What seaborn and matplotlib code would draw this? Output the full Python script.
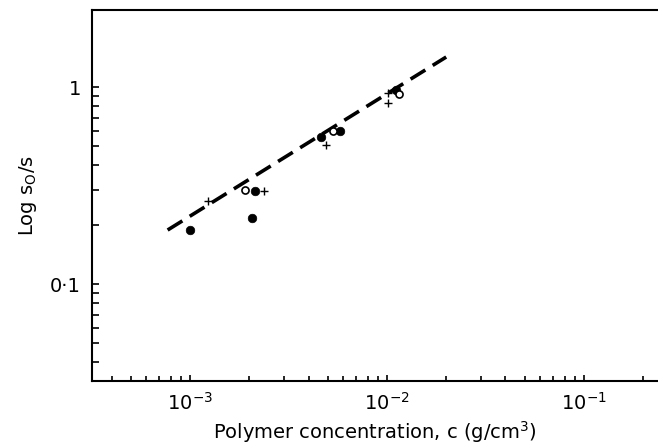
import pandas as pd
import seaborn as sns
import matplotlib.pyplot as plt
from matplotlib.ticker import LogLocator, NullFormatter, FixedLocator

# Values (log-log axes)
filled_c = [1.0e-3, 2.07e-3, 2.14e-3, 4.62e-3, 5.77e-3, 1.11e-2]
filled_s = [0.188, 0.216, 0.298, 0.56, 0.598, 0.97]

open_c = [1.9e-3, 5.3e-3, 1.15e-2]
open_s = [0.30, 0.60, 0.92]

plus_c = [1.24e-3, 2.37e-3, 4.89e-3, 1.01e-2, 1.01e-2]
plus_s = [0.264, 0.298, 0.508, 0.93, 0.826]

line_c = [7.7e-4, 2.0e-2]
line_s = [0.188, 1.42]

xtick_vals = [1e-3, 1e-2, 1e-1]
xtick_labels = ["$10^{-3}$", "$10^{-2}$", "$10^{-1}$"]
ytick_vals = [0.1, 1]
ytick_labels = ["0·1", "1"]

sns.set_style("ticks")
plt.rcParams["font.family"] = ["DejaVu Sans"]
plt.rcParams["text.color"] = "black"
plt.rcParams["axes.labelcolor"] = "black"

fig = plt.figure(figsize=(6.58, 4.44), dpi=100)
ax = fig.add_axes([92 / 658, 1 - 381 / 444, 1 - 92 / 658, 371 / 444])

fit = pd.DataFrame({"c": line_c, "s": line_s})
sns.lineplot(data=fit, x="c", y="s", ax=ax, color="black", lw=2.6,
             dashes=False, linestyle=(0, (4.8, 2.4)))

filled = pd.DataFrame({"c": filled_c, "s": filled_s})
sns.scatterplot(data=filled, x="c", y="s", ax=ax, marker="o", s=38,
                color="black", edgecolor="black", linewidth=0.5, zorder=3)

opn = pd.DataFrame({"c": open_c, "s": open_s})
sns.scatterplot(data=opn, x="c", y="s", ax=ax, marker="o", s=26,
                facecolor="white", edgecolor="black", linewidth=1.2, zorder=3)

plus = pd.DataFrame({"c": plus_c, "s": plus_s})
sns.scatterplot(data=plus, x="c", y="s", ax=ax, marker="+", s=38,
                color="black", linewidth=1.0, zorder=3)

ax.set_xscale("log")
ax.set_yscale("log")
ax.set_xlim(3.18e-4, 0.238)
ax.set_ylim(0.0322, 2.46)

ax.xaxis.set_major_locator(FixedLocator(xtick_vals))
ax.set_xticklabels(xtick_labels)
ax.xaxis.set_minor_locator(LogLocator(base=10, subs=range(2, 10)))
ax.xaxis.set_minor_formatter(NullFormatter())
ax.yaxis.set_major_locator(FixedLocator(ytick_vals))
ax.set_yticklabels(ytick_labels)
ax.yaxis.set_minor_locator(FixedLocator([0.04, 0.05, 0.06, 0.07, 0.08, 0.09,
                                         0.2, 0.3, 0.4, 0.5, 0.6, 0.7, 0.8, 0.9]))
ax.yaxis.set_minor_formatter(NullFormatter())

ax.tick_params(axis="both", which="both", direction="in", color="black",
               labelcolor="black", width=1.2, labelsize=14, pad=8)
ax.tick_params(axis="x", which="major", length=4)
ax.tick_params(axis="x", which="minor", length=3.5)
ax.tick_params(axis="y", which="both", length=5)

for side in ["left", "bottom", "top"]:
    ax.spines[side].set_color("black")
    ax.spines[side].set_linewidth(1.5)
ax.spines["right"].set_visible(False)

ax.set_xlabel("Polymer concentration, c (g/cm$^3$)", fontsize=14, labelpad=4)
ax.set_ylabel("Log s$_\\mathrm{O}$/s", fontsize=14, labelpad=8)

fig.savefig("out.png", dpi=100)
